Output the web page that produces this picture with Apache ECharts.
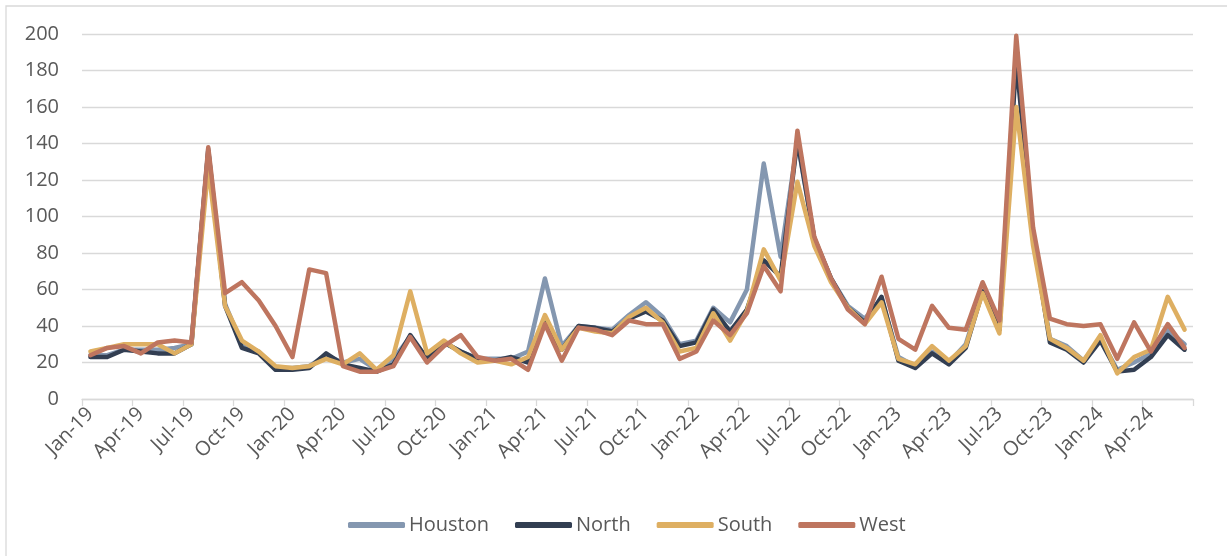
<!DOCTYPE html>
<html>
<head>
<meta charset="utf-8">
<script src="https://cdn.jsdelivr.net/npm/echarts@6/dist/echarts.min.js"></script>
<style>
  html, body { margin: 0; padding: 0; background: #ffffff; }
  #chart { width: 1227px; height: 556px; }
</style>
</head>
<body>
<div id="chart"></div>
<script>
// Monthly values, Jan-19 through Jun-24
const months = [
  'Jan-19','Feb-19','Mar-19','Apr-19','May-19','Jun-19','Jul-19','Aug-19','Sep-19','Oct-19','Nov-19','Dec-19',
  'Jan-20','Feb-20','Mar-20','Apr-20','May-20','Jun-20','Jul-20','Aug-20','Sep-20','Oct-20','Nov-20','Dec-20',
  'Jan-21','Feb-21','Mar-21','Apr-21','May-21','Jun-21','Jul-21','Aug-21','Sep-21','Oct-21','Nov-21','Dec-21',
  'Jan-22','Feb-22','Mar-22','Apr-22','May-22','Jun-22','Jul-22','Aug-22','Sep-22','Oct-22','Nov-22','Dec-22',
  'Jan-23','Feb-23','Mar-23','Apr-23','May-23','Jun-23','Jul-23','Aug-23','Sep-23','Oct-23','Nov-23','Dec-23',
  'Jan-24','Feb-24','Mar-24','Apr-24','May-24','Jun-24'
];

const houston = [
  24, 24, 27, 27, 27, 28, 30, 137, 52, 30, 26, 17,
  17, 18, 24, 20, 22, 16, 22, 34, 22, 31, 26, 22,
  22, 22, 26, 66, 29, 40, 39, 38, 46, 53, 45, 30,
  32, 50, 42, 60, 129, 78, 141, 88, 66, 51, 44, 55,
  23, 18, 26, 20, 30, 59, 38, 192, 89, 33, 29, 21,
  33, 16, 20, 25, 38, 30
];

const north = [
  23, 23, 27, 26, 25, 25, 30, 136, 51, 28, 25, 16,
  16, 17, 25, 19, 17, 15, 19, 35, 22, 31, 26, 22,
  21, 23, 20, 42, 27, 40, 39, 37, 44, 48, 43, 29,
  31, 49, 37, 49, 76, 67, 142, 88, 66, 50, 42, 56,
  21, 17, 25, 19, 28, 59, 38, 186, 89, 31, 27, 20,
  32, 15, 16, 23, 35, 27
];

const south = [
  26, 28, 30, 30, 30, 25, 30, 127, 51, 32, 26, 18,
  17, 18, 22, 19, 25, 16, 24, 59, 25, 32, 25, 20,
  21, 19, 23, 46, 27, 39, 37, 36, 45, 50, 42, 26,
  28, 47, 32, 48, 82, 65, 119, 84, 64, 50, 41, 53,
  22, 19, 29, 21, 29, 58, 36, 160, 84, 33, 28, 21,
  35, 14, 23, 27, 56, 38
];

const west = [
  24, 28, 29, 25, 31, 32, 31, 138, 58, 64, 54, 40,
  23, 71, 69, 18, 15, 15, 18, 34, 20, 29, 35, 23,
  21, 22, 16, 41, 21, 39, 38, 35, 43, 41, 41, 22,
  26, 43, 35, 47, 73, 59, 147, 89, 66, 49, 41, 67,
  33, 27, 51, 39, 38, 64, 43, 199, 94, 44, 41, 40,
  41, 22, 42, 26, 41, 28
];

const yTicks = { min: 0, max: 200, step: 20 };

const seriesDefs = [
  { name: 'Houston', data: houston, color: '#8497B0' },
  { name: 'North',   data: north,   color: '#323E52' },
  { name: 'South',   data: south,   color: '#DEAF62' },
  { name: 'West',    data: west,    color: '#BE755F' }
];

const FONT = 'Open Sans';
const TEXT = '#595959';
const RULE = '#D9D9D9';

const chart = echarts.init(document.getElementById('chart'), null, { renderer: 'canvas' });

chart.setOption({
  animation: false,
  backgroundColor: '#ffffff',
  textStyle: { fontFamily: FONT },
  // chart frame
  graphic: [{
    type: 'rect',
    silent: true,
    shape: { x: 6, y: 6, width: 1400, height: 700 },
    style: { fill: 'none', stroke: RULE, lineWidth: 1.3 }
  }],
  grid: { left: 82, right: 34, top: 34, bottom: 157, containLabel: false },
  legend: {
    data: seriesDefs.map(s => s.name),
    left: 343,
    top: 510,
    icon: 'roundRect',
    itemWidth: 57,
    itemHeight: 6,
    itemGap: 26,
    textStyle: { fontFamily: FONT, fontSize: 20, color: TEXT, padding: [0, 0, 0, -1] }
  },
  xAxis: {
    type: 'category',
    data: months,
    boundaryGap: true,
    axisLine: { show: true, lineStyle: { color: RULE, width: 1.3 } },
    axisTick: { show: true, interval: 2, length: 7, lineStyle: { color: RULE, width: 1.3 } },
    axisLabel: {
      interval: 2,
      rotate: 45,
      margin: 12,
      fontFamily: FONT,
      fontSize: 20,
      color: TEXT
    },
    splitLine: { show: false }
  },
  yAxis: {
    type: 'value',
    min: yTicks.min,
    max: yTicks.max,
    interval: yTicks.step,
    axisLine: { show: false },
    axisTick: { show: false },
    axisLabel: { margin: 23, fontFamily: FONT, fontSize: 20, color: TEXT },
    splitLine: { show: true, lineStyle: { color: RULE, width: 1.3 } }
  },
  series: seriesDefs.map(s => ({
    name: s.name,
    type: 'line',
    data: s.data,
    symbol: 'none',
    showSymbol: false,
    smooth: false,
    color: s.color,
    lineStyle: { color: s.color, width: 4.5, cap: 'round', join: 'round' },
    emphasis: { disabled: true }
  }))
});
</script>
</body>
</html>
